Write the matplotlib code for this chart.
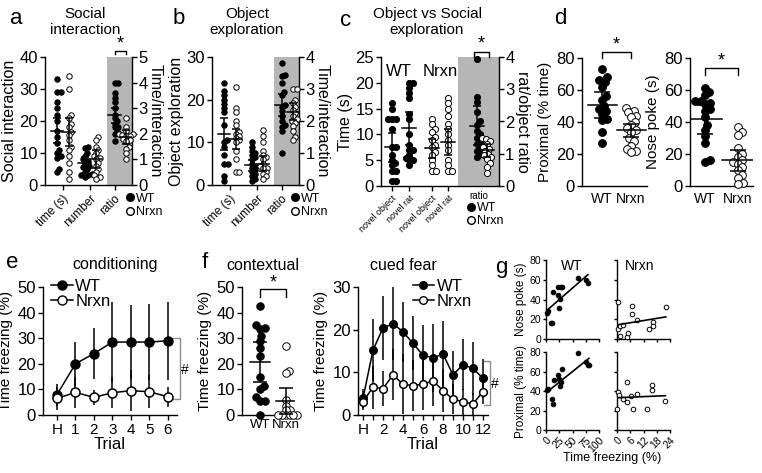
import numpy as np, matplotlib
matplotlib.use("Agg")
import matplotlib.pyplot as plt
from matplotlib.lines import Line2D

plt.rcParams.update({
    "font.family": ["Liberation Sans", "DejaVu Sans"],
    "axes.linewidth": 1.0, "xtick.major.width": 1.0, "ytick.major.width": 1.0,
    "xtick.major.size": 3.5, "ytick.major.size": 3.5,
    "xtick.major.pad": 2, "ytick.major.pad": 1.5, "axes.labelpad": 3})

# ---------------- data ----------------
# a  social interaction (time, number on left axis; ratio on right axis)
a_time_wt = [33, 29, 29, 26, 24, 22, 20, 17, 15, 13, 11, 10, 9, 8.5, 5, 4]
a_time_nx = [34, 30, 22, 21, 19, 18, 16.5, 15.5, 14, 12, 11, 9, 7, 4, 2]
a_num_wt = [12, 11.5, 10, 9, 8, 7.5, 7, 6, 5.5, 5, 4, 3.5, 3, 3, 2.5]
a_num_nx = [15, 14, 12, 11, 10, 9, 8.5, 8, 7, 6, 5, 4, 3, 2.5, 2]
a_ratio_wt = [4.0, 4.0, 3.6, 3.4, 3.25, 3.0, 2.75, 2.6, 2.5, 2.4, 2.25, 2.25, 2.1, 2.0, 1.7]
a_ratio_nx = [2.6, 2.25, 2.1, 2.0, 2.0, 1.95, 1.9, 1.9, 1.8, 1.75, 1.7, 1.5, 1.4, 1.25, 1.0]
a_mean = [17, 16.5, 6.8, 8.1, 2.72, 1.87]
a_err = [3.8, 4.3, 1.8, 2.9, 0.3, 0.28]

# b  object exploration
b_time_wt = [24, 22, 21, 20, 19, 18, 17, 14, 10.5, 10, 9, 7, 5, 5, 2, 1]
b_time_nx = [23, 18, 17, 15, 14, 12.5, 12, 11.5, 11, 10.5, 10, 8, 6, 3, 3]
b_num_wt = [10, 9, 8, 7.5, 7, 6.5, 6, 5, 4.5, 4, 3.5, 3, 2.5, 2, 1.5, 1]
b_num_nx = [13, 11.5, 10, 8, 7, 6.5, 6, 5, 4.5, 4, 4, 3, 2.5, 2, 1.5]
b_ratio_wt = [3.8, 3.45, 3.4, 3.2, 2.9, 2.8, 2.5, 2.45, 2.3, 2.15, 2.0, 1.88, 1.82, 1.7, 1.0]
b_ratio_nx = [3.0, 3.0, 2.65, 2.55, 2.45, 2.35, 2.25, 2.15, 2.05, 2.0, 1.95, 1.85, 1.7, 1.5, 1.4]
b_mean = [12, 10.8, 4.6, 5.0, 2.5, 2.29]
b_err = [3.7, 2.3, 1.3, 1.8, 0.33, 0.27]

# c  object vs social exploration
c_obj_wt = [16, 15, 13, 13, 13, 11, 7.5, 7.5, 6, 5, 4.5, 4, 3, 3, 1, 1]
c_rat_wt = [20, 20, 19, 18, 17, 14, 13, 10, 8, 7, 7, 6, 5.5, 5, 5, 4]
c_obj_nx = [13, 12, 11, 10.5, 9.5, 9, 8, 7.5, 6.5, 6, 5, 4, 3, 3]
c_rat_nx = [17, 16, 15, 13.5, 12, 11, 10, 9, 8, 7, 5, 4, 3, 3]
c_ratio_wt = [3.95, 2.75, 2.6, 2.3, 2.0, 1.9, 1.7, 1.6, 1.5, 1.4, 1.3, 1.2, 1.1, 1.0, 0.9]
c_ratio_nx = [1.5, 1.45, 1.4, 1.3, 1.2, 1.15, 1.1, 1.0, 0.95, 0.9, 0.85, 0.7, 0.6, 0.4]
c_mean = [7.5, 11.2, 7.3, 8.5, 1.87, 1.11]
c_err = [2.8, 3.2, 1.9, 2.5, 0.6, 0.2]
c_ticklabels = ["novel object", "novel rat", "novel object", "novel rat"]

# d  proximal time and nose pokes
d_prox_wt = [73, 68, 66, 65, 62, 56, 54, 50, 48, 47, 45, 42, 41, 34, 27]
d_prox_nx = [49, 47, 46, 44, 43, 40, 38, 36, 35, 34, 30, 28, 25, 23, 22, 21]
d_prox_mean = [50.5, 34.7]
d_prox_err = [8, 4.2]
d_nose_wt = [61, 59, 57, 53, 53, 52, 51, 48, 47, 43, 38, 35, 31, 27, 16, 15]
d_nose_nx = [37, 34, 32, 24, 20, 18, 16, 15, 14, 12, 10, 7, 5, 2, 1]
d_nose_mean = [41.7, 16]
d_nose_err = [9, 6.8]

# e  conditioning
e_trials = ["H", "1", "2", "3", "4", "5", "6"]
e_wt = [8, 20, 24, 28.5, 28.5, 28.5, 29]
e_wt_err = [4.3, 8.6, 9.8, 15.7, 14.4, 15, 15.2]
e_nx = [6.5, 8.8, 6.9, 8.7, 9.5, 9.1, 7.1]
e_nx_err = [4.6, 6.2, 3, 6, 8, 6.5, 3.9]

# f  contextual and cued fear
f_ctx_wt = [42.5, 35, 34, 33.5, 31, 29, 26, 23, 15, 11.5, 10, 7, 5.5, 5.5, 0]
f_ctx_nx = [27, 17, 16.5, 6, 3.5, 2, 2, 0, 0, 0, 0, 0, 0]
f_ctx_mean = [20.8, 5.5]
f_ctx_err = [7.8, 5]
f_trials = ["H", "", "2", "", "4", "", "6", "", "8", "", "10", "", "12"]
f_wt = [3.9, 15.2, 20.4, 21.4, 19.5, 16.8, 14.0, 13.4, 14.3, 9.4, 11.8, 10.9, 8.6]
f_wt_err = [2.3, 7.2, 7.6, 8.6, 7, 6.3, 7, 7.9, 7.7, 5.6, 6, 6.2, 4.5]
f_nx = [3.1, 6.5, 6.2, 9.4, 7.2, 6.9, 7.2, 8.0, 5.7, 3.7, 3.1, 2.6, 5.5]
f_nx_err = [2, 5, 4, 6, 7, 6, 6, 6, 5, 3.5, 3, 2.5, 3]

# g  correlations with freezing
g_wt_frz_nose = [2.5, 4.4, 8.8, 11.9, 13.8, 23, 23, 27.5, 31, 26, 24, 60.6, 76, 79]
g_wt_nose = [26.7, 28.4, 15.9, 15.9, 48, 52.3, 44.6, 53, 53, 40.5, 31.7, 61.4, 59.7, 56.4]
g_wt_frz_prox = [2.5, 4.4, 10.6, 12.5, 15, 23, 24, 27.5, 26, 31, 60.6, 76, 79, 81]
g_wt_prox = [40.9, 41.9, 31.7, 26.6, 51, 56.8, 52, 49.4, 45, 63, 78.6, 69.8, 67, 66.4]
g_nx_frz_nose = [0.5, 0.5, 1.3, 1.3, 2.8, 4.4, 4.9, 6.7, 7, 9.1, 14.3, 16.2, 16.2, 22.1]
g_nx_nose = [37.8, 10.1, 3.4, 13.5, 14.2, 2.4, 6.4, 33.8, 25, 19.2, 10.1, 16.9, 13.5, 32.7]
g_nx_frz_prox = [0, 0.5, 0.8, 2.8, 4.4, 4.7, 6.4, 7.1, 9, 13.8, 15.8, 15.8, 21.9]
g_nx_prox = [22, 39, 36.4, 32.3, 28.3, 49.4, 35, 22, 36.8, 21.4, 46.6, 40.9, 30]

# ---------------- figure ----------------
W, H = 762, 473
fig = plt.figure(figsize=(W / 100, H / 100), dpi=100)


def box(l, t, r, b):
    return fig.add_axes([l / W, 1 - b / H, (r - l) / W, (b - t) / H])


def ftext(x, y, s, size, **kw):
    fig.text(x / W, 1 - y / H, s, fontsize=size, ha="center", va="center", **kw)


def clean(ax):
    ax.spines["top"].set_visible(False)
    ax.spines["right"].set_visible(False)


def swarm(vals, sy, d):
    # beeswarm offsets in pixels
    ys = np.asarray(vals, float) * sy
    xs = np.zeros(len(ys))
    placed = []
    for i in np.argsort(ys):
        y = ys[i]
        cands = [0.0]
        for px, py in placed:
            dy = abs(y - py)
            if dy < d:
                dx = np.sqrt(d * d - dy * dy)
                cands += [px + dx, px - dx]
        cands.sort(key=abs)
        for c in cands:
            if all((c - px) ** 2 + (y - py) ** 2 >= d * d - 1e-6 for px, py in placed):
                xs[i] = c
                break
        placed.append((xs[i], y))
    return xs


def column(ax, x, vals, mean, err, filled, ms, half, cap, pack=0.7):
    p = ax.get_position()
    x0, x1 = ax.get_xlim(); y0, y1 = ax.get_ylim()
    sx = p.width * W / (x1 - x0); sy = p.height * H / (y1 - y0)
    off = swarm(vals, sy, pack * ms / 0.72) / sx
    ax.scatter(x + off, vals, s=ms ** 2, c="k" if filled else "w", edgecolors="k",
               linewidths=0.7, zorder=3, clip_on=False)
    ax.plot([x - half, x + half], [mean, mean], c="k", lw=1.1, zorder=5)
    ax.errorbar([x], [mean], yerr=[err], fmt="none", ecolor="k", elinewidth=1.1,
                capsize=cap, capthick=1.1, zorder=5)


def bracket(ax, x1, x2, ytop, ydrop, ystar, color="k"):
    tr = ax.get_xaxis_transform()
    ax.plot([x1, x1, x2, x2], [ydrop, ytop, ytop, ydrop], c=color, lw=1, transform=tr, clip_on=False)
    ax.text((x1 + x2) / 2, ystar, "*", transform=tr, ha="center", va="center", fontsize=13)


def wt_nx_legend(ax, x, y, size):
    hs = [Line2D([], [], ls="", marker="o", ms=5.5, mfc="k", mec="k", label="WT"),
          Line2D([], [], ls="", marker="o", ms=5.5, mfc="w", mec="k", label="Nrxn")]
    ax.legend(handles=hs, loc="upper left", bbox_to_anchor=(x, y), frameon=False, fontsize=size,
              handlelength=0.6, handletextpad=0.2, borderpad=0, borderaxespad=0, labelspacing=0.1)


def ratio_panel(rect, pos, xlim, span, lmax, lticks, rmax, groups, means, errs, filled,
                ms, half, cap, ylab, rlab):
    ax = box(*rect)
    ax2 = ax.twinx()
    ax.set_xlim(*xlim); ax.set_ylim(0, lmax); ax.set_yticks(lticks)
    ax2.set_ylim(0, rmax); ax2.set_yticks(range(rmax + 1))
    clean(ax)
    for s in ("top", "left", "bottom"):
        ax2.spines[s].set_visible(False)
    ax.axvspan(span, xlim[1], color="#b6b6b6", lw=0, zorder=0)
    for i, vals in enumerate(groups):
        column(ax2 if i >= 4 else ax, pos[i], vals, means[i], errs[i], filled[i], ms, half, cap)
    ax.tick_params(axis="y", labelsize=12)
    ax2.tick_params(axis="y", labelsize=12, pad=1)
    ax.set_ylabel(ylab, fontsize=11.5, labelpad=2)
    ax2.set_ylabel(rlab, fontsize=11.5, rotation=270, va="bottom", labelpad=0)
    return ax, ax2


# ---- a
pos_ab = [0, 1, 2.4, 3.4, 5, 6]
ax, ax2 = ratio_panel((45, 57, 132, 185), pos_ab, (-1.05, 6.52), 4.35, 40, [0, 10, 20, 30, 40], 5,
                      [a_time_wt, a_time_nx, a_num_wt, a_num_nx, a_ratio_wt, a_ratio_nx],
                      a_mean, a_err, [1, 0, 1, 0, 1, 0], 3.9, 0.55, 3, "Social interaction", "Time/interaction")
ax.set_xticks([0.5, 2.9, 5.0], ["time (s)", "number", "ratio"], rotation=45, ha="right",
              rotation_mode="anchor", fontsize=8.5)
bracket(ax, 5, 6, 1.047, 1.023, 1.1)
wt_nx_legend(ax2, 0.93, -0.06, 9)
ftext(16, 18, "a", 16)
ftext(85, 22, "Social\ninteraction", 11, linespacing=1.25)

# ---- b
ax, ax2 = ratio_panel((212, 57, 299, 185), pos_ab, (-1.05, 6.52), 4.35, 30, [0, 10, 20, 30], 4,
                      [b_time_wt, b_time_nx, b_num_wt, b_num_nx, b_ratio_wt, b_ratio_nx],
                      b_mean, b_err, [1, 0, 1, 0, 1, 0], 3.9, 0.55, 3, "Object exploration", "Time/interaction")
ax.set_xticks([0.5, 2.9, 5.0], ["time (s)", "number", "ratio"], rotation=45, ha="right",
              rotation_mode="anchor", fontsize=8.5)
wt_nx_legend(ax2, 0.91, -0.06, 9)
ftext(179, 18, "b", 16)
ftext(247, 22, "Object\nexploration", 11, linespacing=1.25)

# ---- c
pos_c = [0, 1.7, 4.0, 5.6, 8.5, 9.5]
ax, ax2 = ratio_panel((381, 57, 499, 186), pos_c, (-1.1, 10.7), 6.6, 25, [0, 5, 10, 15, 20, 25], 4,
                      [c_obj_wt, c_rat_wt, c_obj_nx, c_rat_nx, c_ratio_wt, c_ratio_nx],
                      c_mean, c_err, [1, 1, 0, 0, 1, 0], 4.4, 0.7, 3, "Time (s)", "rat/object ratio")
ax.set_xticks(pos_c[:4], c_ticklabels, rotation=45, ha="right", rotation_mode="anchor", fontsize=6.5)
ax.text(8.7, -0.035, "ratio", transform=ax.get_xaxis_transform(), ha="center", va="top", fontsize=7)
ax.text(0.7, 0.885, "WT", fontsize=12, ha="center", va="center", transform=ax.get_xaxis_transform())
ax.text(4.8, 0.885, "Nrxn", fontsize=12, ha="center", va="center", transform=ax.get_xaxis_transform())
bracket(ax, 8.2, 9.7, 1.04, 1.0, 1.1)
wt_nx_legend(ax2, 0.73, -0.125, 9)
ftext(346, 20, "c", 16)
ftext(427, 22, "Object vs Social\nexploration", 11, linespacing=1.25)

# ---- d
for rect, wt, nx, mean, err, xlim, lab, br in [
        ((582, 58, 647, 186), d_prox_wt, d_prox_nx, d_prox_mean, d_prox_err, (-0.69, 1.55),
         "Proximal (% time)", (1.047, 1.0, 1.10)),
        ((690, 58, 753, 186), d_nose_wt, d_nose_nx, d_nose_mean, d_nose_err, (-0.45, 1.45),
         "Nose poke (s)", (0.92, 0.867, 0.977))]:
    ax = box(*rect)
    ax.set_xlim(*xlim); ax.set_ylim(0, 80); ax.set_yticks([0, 20, 40, 60, 80])
    clean(ax)
    column(ax, 0, wt, mean[0], err[0], True, 5.6, 0.5, 5.5)
    column(ax, 1, nx, mean[1], err[1], False, 5.6, 0.5, 5.5)
    ax.set_xticks([0, 1], ["WT", "Nrxn"], fontsize=10)
    ax.tick_params(axis="x", length=0, pad=4)
    ax.tick_params(axis="y", labelsize=12)
    ax.set_ylabel(lab, fontsize=11)
    bracket(ax, 0, 1, *br)
ftext(560, 18, "d", 16)


# ---- e and f cued: line plots
def line_panel(rect, labels, wt, wt_e, nx, nx_e, xlim, ymax, yticks, ms, leg_xy):
    ax = box(*rect)
    x = np.arange(len(wt))
    ax.errorbar(x, wt, yerr=wt_e, c="k", lw=1.1, elinewidth=1.1, marker="o", ms=ms, mfc="k", mec="k",
                capsize=0, zorder=3, clip_on=False)
    ax.errorbar(x, nx, yerr=nx_e, c="k", lw=1.1, elinewidth=1.1, marker="o", ms=ms, mfc="w", mec="k",
                mew=1.1, capsize=0, zorder=4, clip_on=False)
    ax.set_xlim(*xlim); ax.set_ylim(0, ymax); ax.set_yticks(yticks)
    ax.set_xticks(x, labels, fontsize=11)
    ax.tick_params(axis="y", labelsize=12)
    ax.set_xlabel("Trial", fontsize=12, labelpad=0)
    ax.set_ylabel("Time freezing (%)", fontsize=11)
    clean(ax)
    hs = [Line2D([], [], c="k", lw=1.1, marker="o", ms=ms, mfc="k", mec="k", label="WT"),
          Line2D([], [], c="k", lw=1.1, marker="o", ms=ms, mfc="w", mec="k", label="Nrxn")]
    ax.legend(handles=hs, loc="upper left", bbox_to_anchor=leg_xy, frameon=False, fontsize=12,
              handlelength=1.3, handletextpad=0.15, borderpad=0, borderaxespad=0, labelspacing=0.0)
    return ax


ax = line_panel((43, 287, 177, 415), e_trials, e_wt, e_wt_err, e_nx, e_nx_err, (-0.76, 6.5), 50,
                [0, 10, 20, 30, 40, 50], 6.5, (0.06, 1.06))
ax.plot([6.3, 6.65, 6.65, 6.3], [30, 30, 6.25, 6.25], c="0.55", lw=1, clip_on=False)
ax.text(6.95, 17.5, "#", fontsize=10, ha="center", va="center")
ftext(12, 263, "e", 16)
ftext(115, 265, "conditioning", 11.5)

ax = line_panel((358, 287, 488, 415), f_trials, f_wt, f_wt_err, f_nx, f_nx_err, (-0.5, 12.5), 30,
                [0, 10, 20, 30], 5.5, (0.42, 1.06))
ax.plot([12.1, 12.7, 12.7, 12.1], [12.7, 12.7, 2.3, 2.3], c="0.55", lw=1, clip_on=False)
ax.text(13.15, 7.3, "#", fontsize=10, ha="center", va="center")
ftext(403, 265, "cued fear", 11.5)

# ---- f contextual
ax = box(242, 287, 295, 415)
ax.set_xlim(-0.69, 1.35); ax.set_ylim(0, 50); ax.set_yticks([0, 10, 20, 30, 40, 50])
clean(ax)
column(ax, 0, f_ctx_wt, f_ctx_mean[0], f_ctx_err[0], True, 5.4, 0.4, 5)
column(ax, 1, f_ctx_nx, f_ctx_mean[1], f_ctx_err[1], False, 5.4, 0.4, 5, pack=0.5)
ax.set_xticks([0, 1], ["WT", "Nrxn"], fontsize=9.5)
ax.tick_params(axis="x", length=0, pad=3)
ax.tick_params(axis="y", labelsize=12)
ax.set_ylabel("Time freezing (%)", fontsize=11)
bracket(ax, 0, 1, 0.984, 0.92, 1.03)
ftext(205, 263, "f", 16)
ftext(263, 265, "contextual", 11.5)


# ---- g correlations
def corr(rect, x, y, filled, xmax, xticks, ylab, xlabels):
    ax = box(*rect)
    ax.scatter(x, y, s=11, c="k" if filled else "w", edgecolors="k", linewidths=0.7, zorder=3, clip_on=False)
    k, b0 = np.polyfit(x, y, 1)
    xx = np.array([min(x), max(x)])
    ax.plot(xx, k * xx + b0, c="k", lw=1.2, zorder=4)
    ax.set_xlim(0, xmax); ax.set_ylim(0, 80)
    ax.set_yticks([0, 20, 40, 60, 80])
    ax.set_xticks(xticks)
    ax.tick_params(labelsize=7.5, length=2.5, pad=1)
    if xlabels:
        ax.set_xticklabels([str(t) for t in xticks], rotation=45, ha="right", rotation_mode="anchor")
    else:
        ax.set_xticklabels([])
    if ylab:
        ax.set_ylabel(ylab, fontsize=8.5, labelpad=2)
    else:
        ax.set_yticklabels([])
    clean(ax)
    return ax


corr((546, 260, 599, 339), g_wt_frz_nose, g_wt_nose, True, 100, [0, 25, 50, 75, 100], "Nose poke (s)", False)
corr((546, 352, 599, 430), g_wt_frz_prox, g_wt_prox, True, 100, [0, 25, 50, 75, 100], "Proximal (% time)", True)
corr((617, 260, 670, 339), g_nx_frz_nose, g_nx_nose, False, 24, [0, 6, 12, 18, 24], None, False)
corr((617, 352, 670, 430), g_nx_frz_prox, g_nx_prox, False, 24, [0, 6, 12, 18, 24], None, True)
ftext(572, 266, "WT", 10)
ftext(640, 266, "Nrxn", 10)
ftext(612, 458, "Time freezing (%)", 9)
ftext(501, 268, "g", 16)

fig.savefig("out.png", dpi=100)
